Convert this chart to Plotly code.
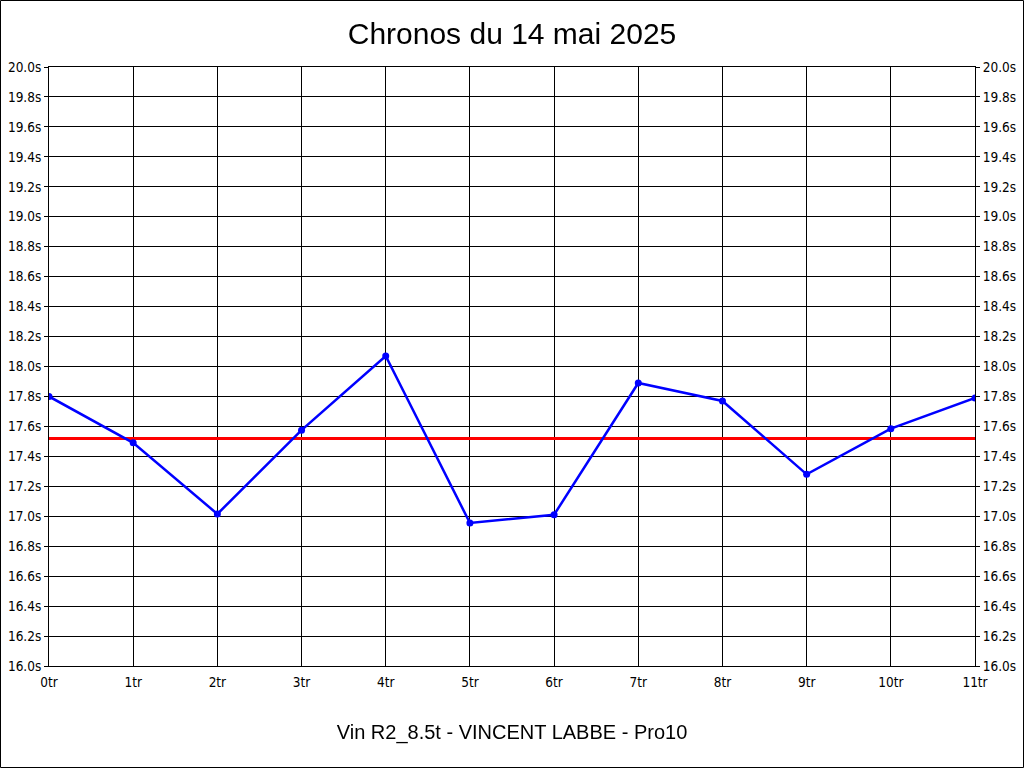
import plotly.graph_objects as go

laps = list(range(12))
lap_labels = ["0tr", "1tr", "2tr", "3tr", "4tr", "5tr", "6tr", "7tr", "8tr", "9tr", "10tr", "11tr"]
times = [17.80, 17.49, 17.015, 17.575, 18.07, 16.955, 17.01, 17.89, 17.77, 17.28, 17.585, 17.79]
mean_time = 17.52
y_ticks = [16.0, 16.2, 16.4, 16.6, 16.8, 17.0, 17.2, 17.4, 17.6, 17.8, 18.0,
           18.2, 18.4, 18.6, 18.8, 19.0, 19.2, 19.4, 19.6, 19.8, 20.0]
y_labels = ["%.1fs" % v for v in y_ticks]

W, H = 1024, 768
L, R, T, B = 49, 49, 67, 102
pw, ph = W - L - R, H - T - B

tick_font = dict(family="Liberation Sans Narrow, DejaVu Sans Condensed, Arial Narrow, Liberation Sans, Arial",
                 size=13.5, color="black")

fig = go.Figure()
fig.add_trace(go.Scatter(x=[laps[0], laps[-1]], y=[mean_time, mean_time], mode="lines",
                         line=dict(color="#ff0000", width=3), hoverinfo="skip", showlegend=False))
fig.add_trace(go.Scatter(x=laps, y=times, mode="lines+markers",
                         line=dict(color="#0000ff", width=2.5),
                         marker=dict(color="#0000ff", size=7), showlegend=False))
fig.add_trace(go.Scatter(x=laps, y=times, yaxis="y2", mode="markers", opacity=0,
                         hoverinfo="skip", showlegend=False))

fig.update_layout(
    width=W, height=H,
    margin=dict(l=L, r=R, t=T, b=B, pad=0, autoexpand=False),
    paper_bgcolor="white", plot_bgcolor="white",
    title=dict(text="Chronos du 14 mai 2025", x=0.5, xanchor="center", y=1 - 33 / H, yanchor="middle",
               font=dict(family="Liberation Sans, Arial", size=30, color="black")),
    xaxis=dict(range=[0, 11], tickvals=laps, ticktext=lap_labels, showgrid=True, gridcolor="black",
               gridwidth=1, zeroline=False, showline=True, linecolor="black", linewidth=1, mirror=True,
               ticks="", tickfont=tick_font, ticklabelstandoff=4, automargin=False,
               title=dict(text="Vin R2_8.5t - VINCENT LABBE - Pro10", standoff=35,
                          font=dict(family="Liberation Sans, Arial", size=20, color="black"))),
    yaxis=dict(range=[16.0, 20.0], tickvals=y_ticks, ticktext=y_labels, showgrid=True, gridcolor="black",
               gridwidth=1, zeroline=False, showline=True, linecolor="black", linewidth=1, mirror=True,
               ticks="outside", ticklen=4, tickcolor="black", tickfont=tick_font, automargin=False),
    yaxis2=dict(range=[16.0, 20.0], tickvals=y_ticks, ticktext=y_labels, overlaying="y", side="right",
                showgrid=False, zeroline=False, ticks="outside", ticklen=4, tickcolor="black",
                tickfont=tick_font, automargin=False),
    shapes=[dict(type="rect", xref="paper", yref="paper",
                 x0=-(L - 0.5) / pw, x1=1 + (R - 0.5) / pw, y0=-(B - 0.5) / ph, y1=1 + (T - 0.5) / ph,
                 line=dict(color="black", width=1), fillcolor="rgba(0,0,0,0)", layer="above")],
)

fig.write_html("out.html", config={"displayModeBar": False},
               post_script="document.body.style.margin='0';document.body.style.overflow='hidden';")
